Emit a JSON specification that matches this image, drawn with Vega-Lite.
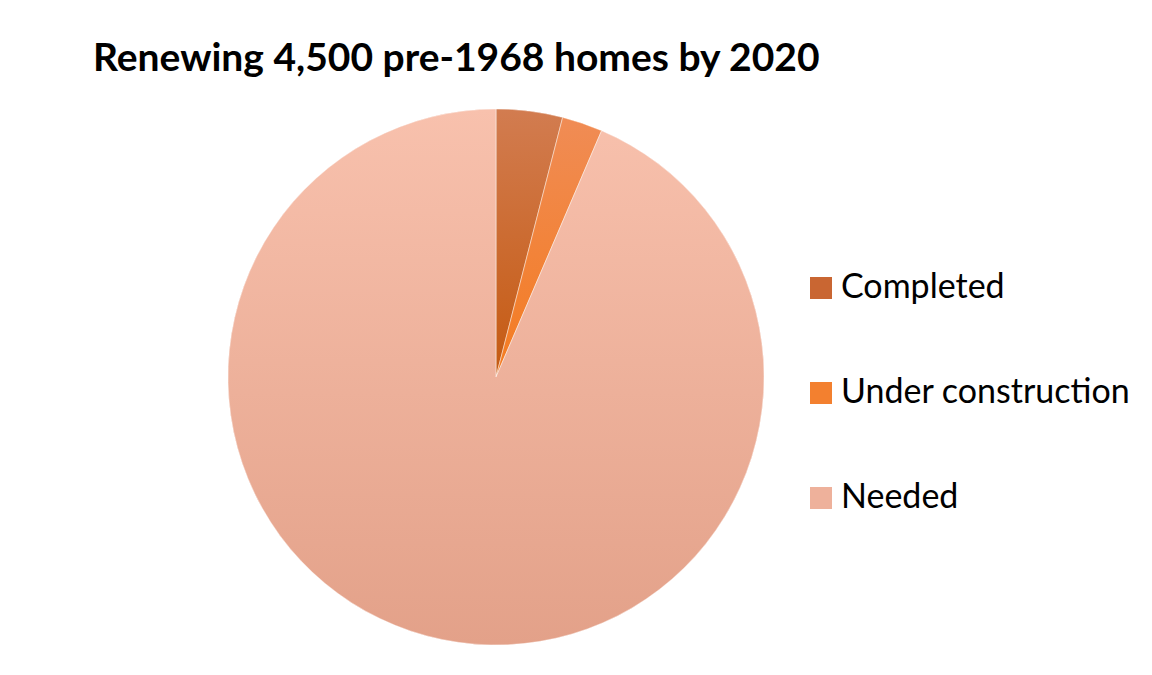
{
  "$schema": "https://vega.github.io/schema/vega-lite/v6.json",
  "width": 536,
  "height": 536,
  "autosize": {"type": "none"},
  "padding": {"left": 228, "top": 109, "right": 388, "bottom": 30},
  "background": "#ffffff",
  "title": {
    "text": "Renewing 4,500 pre-1968 homes by 2020",
    "anchor": "start",
    "frame": "group",
    "dx": -135,
    "offset": 28,
    "font": "Lato",
    "fontSize": 39,
    "fontWeight": "bold",
    "color": "#000000"
  },
  "data": {
    "values": [
      {"status": "Completed", "homes": 180},
      {"status": "Under construction", "homes": 110},
      {"status": "Needed", "homes": 4210}
    ]
  },
  "transform": [
    {"stack": "homes", "groupby": [], "as": ["start", "end"]}
  ],
  "encoding": {
    "theta": {"field": "start", "type": "quantitative", "scale": {"domain": [0, 4500]}},
    "theta2": {"field": "end"}
  },
  "layer": [
    {
      "mark": {"type": "arc"},
      "encoding": {
        "color": {
          "field": "status",
          "type": "nominal",
          "sort": ["Completed", "Under construction", "Needed"],
          "scale": {
            "domain": ["Completed", "Under construction", "Needed"],
            "range": ["#c96632", "#f3802f", "#eeb19b"]
          },
          "legend": {
            "title": null,
            "orient": "none",
            "legendX": 576,
            "legendY": 162,
            "symbolType": "square",
            "symbolSize": 484,
            "symbolStrokeWidth": 0,
            "symbolOpacity": 1,
            "labelFont": "Lato",
            "labelFontSize": 34,
            "labelColor": "#000000",
            "labelOffset": 3,
            "rowPadding": 71,
            "labelLimit": 400
          }
        }
      }
    },
    {
      "transform": [{"filter": "datum.status === 'Completed'"}],
      "mark": {"type": "arc", "stroke": "#ffffff", "strokeWidth": 0.8, "strokeOpacity": 0.6,
        "fill": {"gradient": "linear", "x1": 0, "y1": 0, "x2": 0, "y2": 1, "stops": [{"offset": 0, "color": "#d27c50"}, {"offset": 1, "color": "#c55a11"}]}}
    },
    {
      "transform": [{"filter": "datum.status === 'Under construction'"}],
      "mark": {"type": "arc", "stroke": "#ffffff", "strokeWidth": 0.8, "strokeOpacity": 0.6,
        "fill": {"gradient": "linear", "x1": 0, "y1": 0, "x2": 0, "y2": 1, "stops": [{"offset": 0, "color": "#f08c55"}, {"offset": 1, "color": "#f47b20"}]}}
    },
    {
      "transform": [{"filter": "datum.status === 'Needed'"}],
      "mark": {"type": "arc", "stroke": "#ffffff", "strokeWidth": 0.8, "strokeOpacity": 0.6,
        "fill": {"gradient": "linear", "x1": 0, "y1": 0, "x2": 0, "y2": 1, "stops": [{"offset": 0, "color": "#f8c1ad"}, {"offset": 1, "color": "#e3a189"}]}}
    }
  ],
  "config": {"view": {"stroke": null}}
}
